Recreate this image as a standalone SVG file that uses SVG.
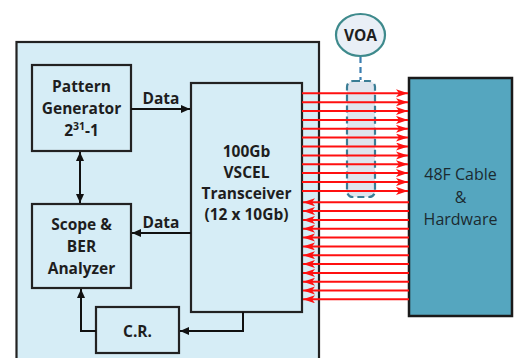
<svg xmlns="http://www.w3.org/2000/svg" width="518" height="358" viewBox="0 0 518 358">
<style>
.box{fill:#d6edf6;stroke:#222;stroke-width:2.2}
.lbl{font-family:"Open Sans","Liberation Sans",sans-serif;font-weight:bold;font-size:15.5px;fill:#1e1e1e;text-anchor:middle}
.cab{font-family:"Open Sans","Liberation Sans",sans-serif;font-size:16px;fill:#1b2a30;text-anchor:middle}
.blk{fill:none;stroke:#111;stroke-width:2}
.red{stroke:#ff1010;stroke-width:2}
</style>
<defs>
<marker id="ab" markerUnits="userSpaceOnUse" markerWidth="10" markerHeight="10" refX="9" refY="4" orient="auto">
<path d="M0,0 L9,4 L0,8 Z" fill="#111"/>
</marker>
<marker id="ar" markerUnits="userSpaceOnUse" markerWidth="14" markerHeight="10" refX="12" refY="4" orient="auto">
<path d="M0,0 L12,4 L0,8 L3,4 Z" fill="#ff1010"/>
</marker>
</defs>
<rect width="518" height="358" fill="#fff"/>
<g id="test-bench">
<rect class="box" x="16.5" y="42" width="302.5" height="330"/>
</g>
<g id="pattern-generator">
<rect class="box" x="32" y="65" width="99" height="86"/>
<text class="lbl" x="81.5" y="92">Pattern</text>
<text class="lbl" x="81.5" y="114">Generator</text>
<text class="lbl" x="81.5" y="136">2<tspan font-size="10.5px" dy="-6">31</tspan><tspan dy="6">-1</tspan></text>
</g>
<g id="scope-ber">
<rect class="box" x="32" y="204" width="99" height="84"/>
<text class="lbl" x="81.5" y="230">Scope &amp;</text>
<text class="lbl" x="81.5" y="252">BER</text>
<text class="lbl" x="81.5" y="274">Analyzer</text>
</g>
<g id="transceiver">
<rect class="box" x="191" y="83" width="111" height="229"/>
<text class="lbl" x="246.5" y="157">100Gb</text>
<text class="lbl" x="246.5" y="178">VSCEL</text>
<text class="lbl" x="246.5" y="199">Transceiver</text>
<text class="lbl" x="246.5" y="220">(12 x 10Gb)</text>
</g>
<g id="cr">
<rect class="box" x="96" y="307" width="83" height="46"/>
<text class="lbl" x="137.5" y="337">C.R.</text>
</g>
<g id="cable">
<rect x="409" y="78" width="103" height="238" fill="#55a6bf" stroke="#1a1a1a" stroke-width="2.5"/>
<text class="cab" x="460.5" y="180">48F Cable</text>
<text class="cab" x="460.5" y="203">&amp;</text>
<text class="cab" x="460.5" y="225">Hardware</text>
</g>
<g id="voa">
<ellipse cx="360.5" cy="35" rx="24.5" ry="21" fill="#e9eff6" stroke="#3e8a8c" stroke-width="2.2"/>
<text class="lbl" x="360.5" y="41">VOA</text>
<rect x="347" y="81" width="28" height="116" rx="6" fill="#dfe5ee" stroke="#3a7d95" stroke-width="2.2" stroke-dasharray="7,4"/>
</g>
<g id="connectors">
<line x1="360.5" y1="57" x2="360.5" y2="80" stroke="#3a7db0" stroke-width="2.2" stroke-dasharray="6,4"/>
<line class="blk" x1="131" y1="109" x2="190" y2="109" marker-end="url(#ab)"/>
<text class="lbl" x="161" y="104">Data</text>
<line class="blk" x1="191" y1="233" x2="132" y2="233" marker-end="url(#ab)"/>
<text class="lbl" x="161" y="228">Data</text>
<line class="blk" x1="80" y1="170" x2="80" y2="152" marker-end="url(#ab)"/>
<line class="blk" x1="80" y1="185" x2="80" y2="203" marker-end="url(#ab)"/>
<line class="blk" x1="80" y1="170" x2="80" y2="185"/>
<polyline class="blk" points="243,312 243,331 180,331" marker-end="url(#ab)"/>
<polyline class="blk" points="96,331 81,331 81,289" marker-end="url(#ab)"/>
<g class="red" marker-end="url(#ar)">
<line x1="302" y1="93.3" x2="408" y2="93.3"/>
<line x1="302" y1="102.2" x2="408" y2="102.2"/>
<line x1="302" y1="111" x2="408" y2="111"/>
<line x1="302" y1="119.9" x2="408" y2="119.9"/>
<line x1="302" y1="128.8" x2="408" y2="128.8"/>
<line x1="302" y1="137.6" x2="408" y2="137.6"/>
<line x1="302" y1="146.5" x2="408" y2="146.5"/>
<line x1="302" y1="155.4" x2="408" y2="155.4"/>
<line x1="302" y1="164.3" x2="408" y2="164.3"/>
<line x1="302" y1="173.1" x2="408" y2="173.1"/>
<line x1="302" y1="182" x2="408" y2="182"/>
<line x1="302" y1="190.9" x2="408" y2="190.9"/>
<line x1="409" y1="202.3" x2="303" y2="202.3"/>
<line x1="409" y1="211.1" x2="303" y2="211.1"/>
<line x1="409" y1="219.9" x2="303" y2="219.9"/>
<line x1="409" y1="228.8" x2="303" y2="228.8"/>
<line x1="409" y1="237.6" x2="303" y2="237.6"/>
<line x1="409" y1="246.4" x2="303" y2="246.4"/>
<line x1="409" y1="255.2" x2="303" y2="255.2"/>
<line x1="409" y1="264" x2="303" y2="264"/>
<line x1="409" y1="272.9" x2="303" y2="272.9"/>
<line x1="409" y1="281.7" x2="303" y2="281.7"/>
<line x1="409" y1="290.5" x2="303" y2="290.5"/>
<line x1="409" y1="299.3" x2="303" y2="299.3"/>
</g>
</g>
</svg>
